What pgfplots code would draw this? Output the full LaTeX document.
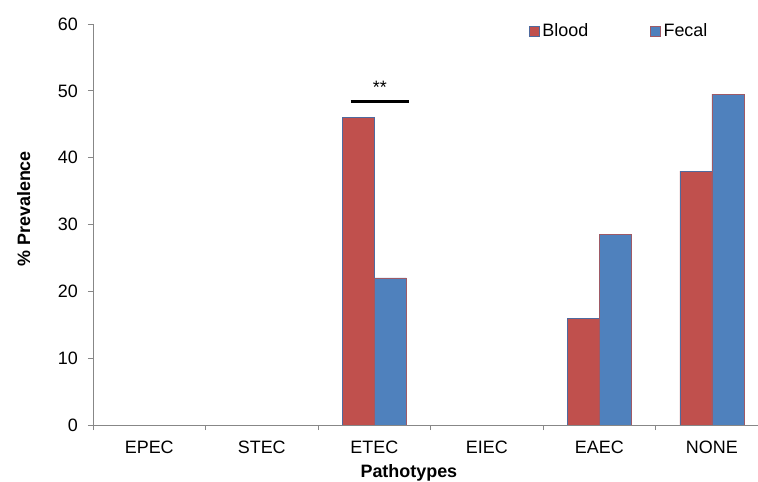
\documentclass[border=0pt]{standalone}
\usepackage{pgfplots}
\pgfplotsset{compat=1.18}
\usepackage{fontspec}
\setmainfont{Liberation Sans}
\definecolor{bred}{HTML}{C0504D}
\definecolor{bblue}{HTML}{4F81BD}
\definecolor{redge}{HTML}{4F6A9E}
\definecolor{bedge}{HTML}{9E5A66}
\definecolor{axgray}{HTML}{878787}
\begin{document}
\fontsize{18}{21}\selectfont
\begin{tikzpicture}
\begin{axis}[
  at={(0,0)}, anchor=south west,
  scale only axis, width=665bp, height=401bp,
  ymin=0, ymax=60, ytick={0,10,...,60},
  xmin=-0.5, xmax=5.41,
  axis x line*=bottom, axis y line*=left,
  axis line style={axgray, line width=0.8pt},
  tick style={axgray, line width=0.8pt},
  tick align=outside,
  major tick length=5bp, minor tick length=5bp,
  xtick={0,1,2,3,4,5},
  xticklabels={EPEC,STEC,ETEC,EIEC,EAEC,NONE},
  major x tick style={draw=none},
  minor xtick={-0.5,0.5,1.5,2.5,3.5,4.5},
  xticklabel style={yshift=-5bp},
  yticklabel style={xshift=-4bp},
  ybar=0pt, bar width=0.285,
  /pgf/number format/assume math mode=true,
  ticklabel style={font=\fontsize{18}{21}\selectfont},
  xlabel={\bfseries Pathotypes},
  xlabel style={at={(axis description cs:0.475,-0.12)}, anchor=center},
  ylabel={\bfseries \% Prevalence},
  ylabel style={at={(axis description cs:-0.1043,0.539)}, anchor=center},
  legend style={at={(axis description cs:0.651,1.012)}, anchor=north west, draw=none, fill=none,
    legend columns=2, font=\fontsize{18}{21}\selectfont,
    /tikz/every even column/.append style={column sep=60bp}},
  legend image code/.code={\draw[#1] (0bp,-5bp) rectangle (10bp,5bp); \path[draw=none, fill=none] (0bp,0bp) rectangle (11bp,0.1bp);},
]
\addplot[fill=bred, draw=redge, line width=0.6pt] coordinates {(0,0) (1,0) (2,46) (3,0) (4,16) (5,38)};
\addplot[fill=bblue, draw=bedge, line width=0.6pt] coordinates {(0,0) (1,0) (2,22) (3,0) (4,28.5) (5,49.5)};
\legend{Blood, Fecal}
\draw[black, line width=3bp] (axis cs:1.79,48.4) -- (axis cs:2.31,48.4);
\node[black] at (axis cs:2.05,50.5) {**};
\end{axis}
\pgfresetboundingbox
\path (-93bp,-57bp) rectangle (665bp,425bp);
\end{tikzpicture}
\end{document}
